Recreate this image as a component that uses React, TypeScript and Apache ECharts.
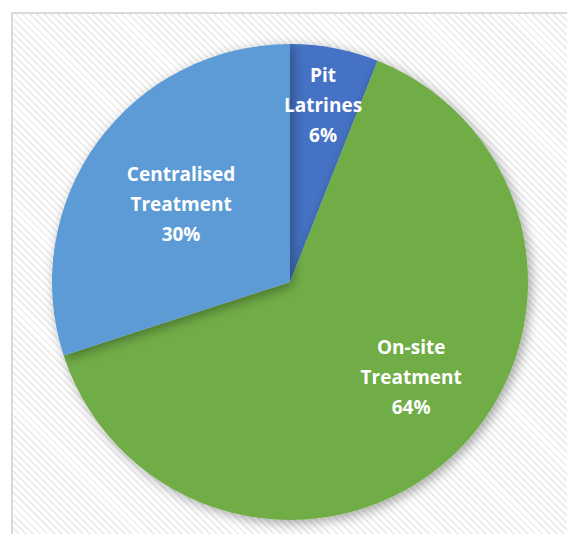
import React, { useEffect, useRef } from "react";
import * as echarts from "echarts";

const categories = ["Pit\nLatrines", "On-site\nTreatment", "Centralised\nTreatment"];
const values = [6, 64, 30];
const colors = ["#4472C4", "#70AD47", "#5B9BD5"];

// label placement (radius fraction, angle in degrees clockwise from 12 o'clock)
const LABEL_POLAR = [
  [0.755, 10.6],
  [0.647, 128.1],
  [0.563, 305.6],
];

const CX = 290;
const CY = 282;
const R = 238;

export default function App() {
  const ref = useRef<HTMLDivElement>(null);
  useEffect(() => {
    const chart = echarts.init(ref.current!, null, { renderer: "svg" });
    chart.setOption({
      animation: false,
      backgroundColor: "transparent",
      series: [
        {
          type: "pie",
          center: [CX, CY],
          radius: R,
          startAngle: 90,
          clockwise: true,
          avoidLabelOverlap: false,
          data: categories.map((c, i) => ({
            name: c,
            value: values[i],
            itemStyle: { color: colors[i] },
          })),
          itemStyle: {
            borderWidth: 0,
            shadowBlur: 12,
            shadowOffsetX: 3,
            shadowOffsetY: 3,
            shadowColor: "rgba(0,0,0,0.35)",
          },
          label: {
            show: true,
            position: "inside",
            formatter: (p: any) => `${p.name}\n${Math.round(p.percent)}%`,
            color: "#ffffff",
            fontFamily: "Open Sans",
            fontWeight: "bold",
            fontSize: 19,
            lineHeight: 30,
            align: "center",
            verticalAlign: "middle",
          },
          labelLine: { show: false },
          labelLayout: (params: any) => {
            const [f, a] = LABEL_POLAR[params.dataIndex];
            const rad = (a * Math.PI) / 180;
            return {
              x: CX + R * f * Math.sin(rad),
              y: CY - R * f * Math.cos(rad),
              align: "center",
              verticalAlign: "middle",
            };
          },
          emphasis: { disabled: true },
        },
      ],
    });
    return () => chart.dispose();
  }, []);

  return (
    <div
      style={{
        position: "absolute",
        left: 0,
        top: 0,
        width: 567,
        height: 534,
        background: "#ffffff",
        overflow: "hidden",
      }}
    >
      <div
        style={{
          position: "absolute",
          left: 11,
          top: 12,
          width: 620,
          height: 600,
          border: "2px solid #d9d9d9",
          background:
            "repeating-linear-gradient(45deg, #eeeeee 0px, #eeeeee 2px, #ffffff 2px, #ffffff 5px)",
        }}
      />
      <div
        ref={ref}
        style={{ position: "absolute", left: 0, top: 0, width: 567, height: 534 }}
      />
    </div>
  );
}
